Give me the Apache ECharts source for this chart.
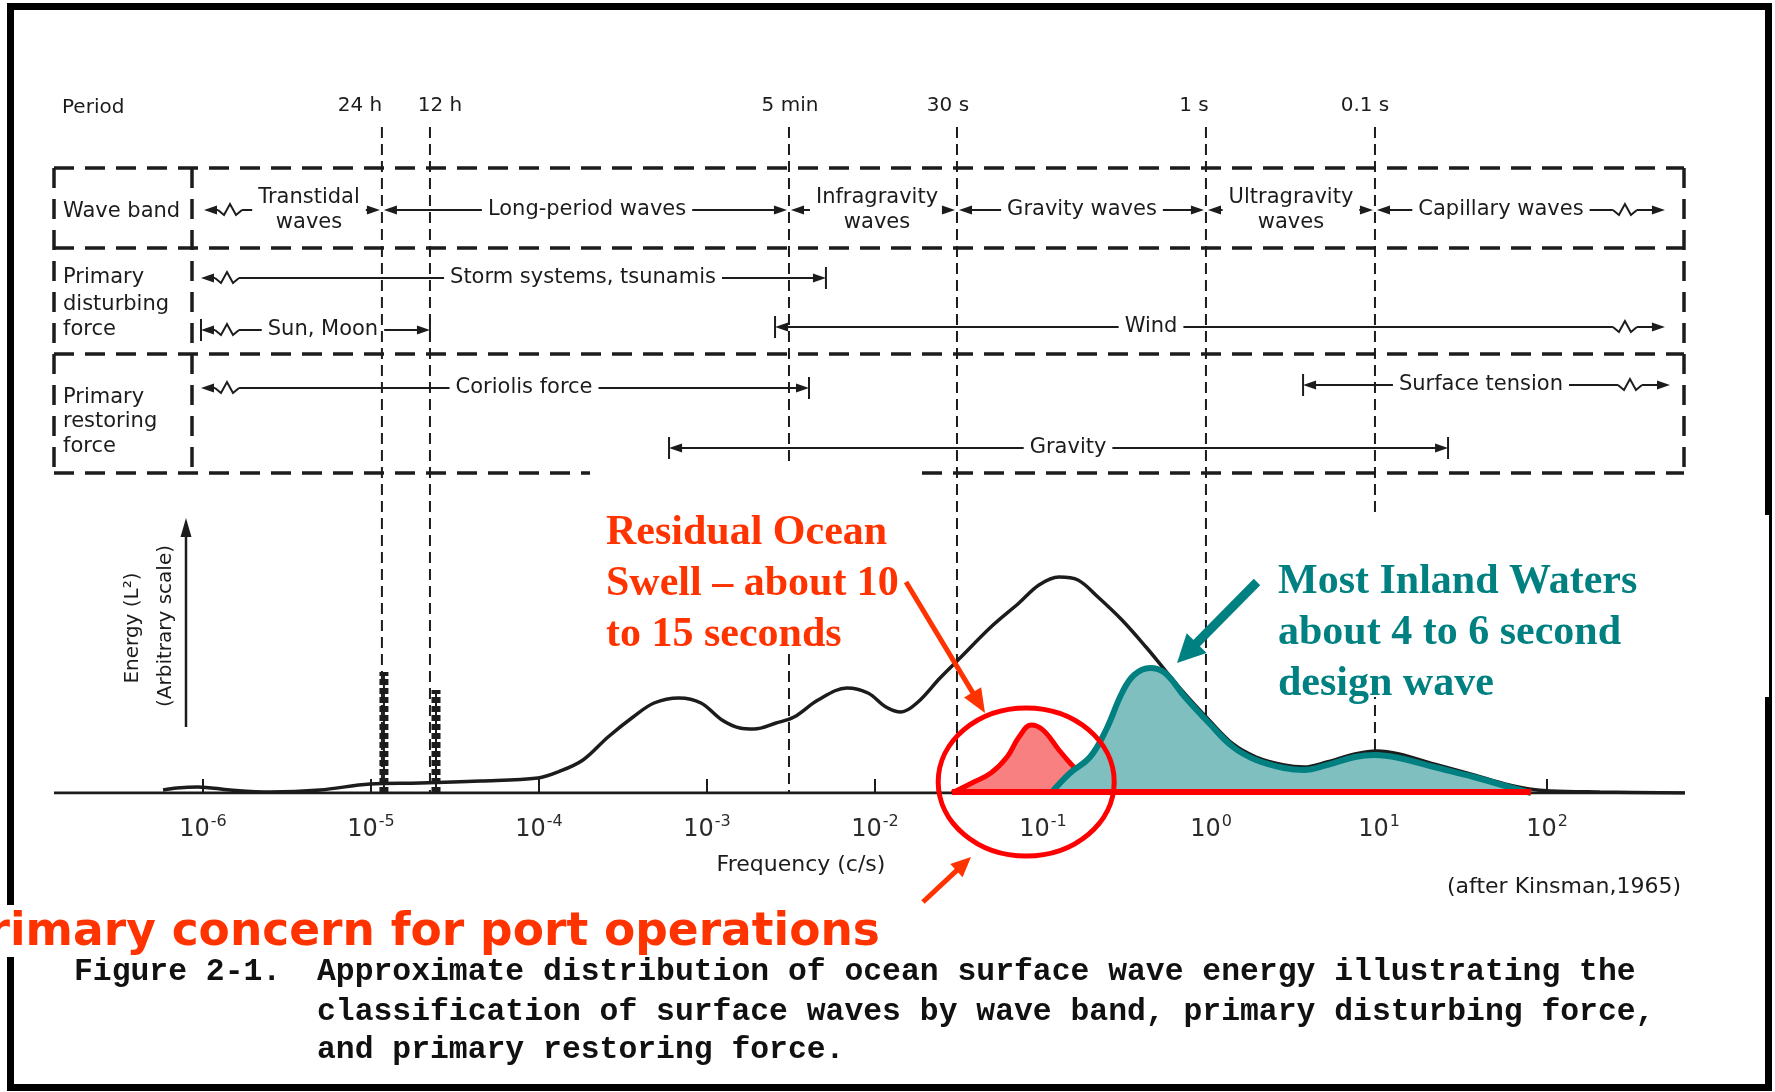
<!DOCTYPE html>
<html>
<head>
<meta charset="utf-8">
<script src="https://cdn.jsdelivr.net/npm/echarts@6/dist/echarts.min.js"></script>
<style>
  html, body { margin: 0; padding: 0; background: #ffffff; }
  #chart { width: 1775px; height: 1092px; }
</style>
</head>
<body>
<div id="chart"></div>
<script>
// ---- Frequency axis: x values are log10(frequency in c/s) ----
const decadeExponents = [-6, -5, -4, -3, -2, -1, 0, 1, 2];

// ---- Ocean surface wave energy spectrum (arbitrary units) ----
const spectrumLogF = [-6.238, -6.155, -6.030, -5.839, -5.601, -5.304, -5.006, -4.708, -4.351, -4.006,
  -3.887, -3.738, -3.589, -3.440, -3.315, -3.167, -3.036, -2.911, -2.804, -2.720,
  -2.589, -2.482, -2.339, -2.167, -2.042, -1.935, -1.845, -1.744, -1.613, -1.488,
  -1.310, -1.143, -1.024, -0.905, -0.792, -0.673, -0.530, -0.387, -0.274, -0.155,
  -0.012, 0.131, 0.268, 0.435, 0.554, 0.690, 0.857, 0.988, 1.119, 1.327,
  1.565, 1.774, 1.893, 2.018, 2.315, 2.821];
const spectrumEnergy = [0.15, 0.25, 0.30, 0.15, 0.05, 0.15, 0.45, 0.50, 0.60, 0.75,
  1.05, 1.65, 2.80, 3.80, 4.50, 4.75, 4.50, 3.65, 3.25, 3.20,
  3.50, 3.80, 4.65, 5.25, 5.00, 4.30, 4.05, 4.55, 5.75, 6.80,
  8.30, 9.50, 10.40, 10.80, 10.65, 9.80, 8.65, 7.30, 6.15, 4.95,
  3.65, 2.45, 1.80, 1.40, 1.30, 1.55, 1.95, 2.10, 1.95, 1.45,
  0.90, 0.40, 0.20, 0.10, 0.05, 0.00];

// Tidal lines at the diurnal and semidiurnal periods
const tidalSpikeLogF = [-4.923, -4.613];
const tidalSpikeEnergy = [6.05, 5.15];

// Residual ocean swell (10 to 15 s)
const swellLogF = [-1.542, -1.423, -1.310, -1.214, -1.143, -1.071, -1.000, -0.905, -0.839, -0.768, -0.690, -0.631];
const swellEnergy = [0.00, 0.50, 1.00, 1.80, 2.80, 3.40, 3.15, 2.15, 1.50, 0.90, 0.40, 0.00];

// Inland waters design wave band (4 to 6 s)
const inlandLogF = [-0.952, -0.839, -0.720, -0.625, -0.530, -0.458, -0.363, -0.274, -0.155, -0.012,
  0.131, 0.268, 0.435, 0.554, 0.690, 0.857, 0.976, 1.119, 1.327, 1.565, 1.774, 1.905];
const inlandEnergy = [0.00, 1.00, 1.80, 3.15, 5.00, 5.90, 6.25, 6.00, 4.80, 3.50,
  2.30, 1.65, 1.25, 1.15, 1.40, 1.80, 1.90, 1.75, 1.30, 0.80, 0.30, 0.00];

// Extent of the frequency baseline and of the port-concern underline
const baselineLogF = [-6.887, 2.821];
const portBandLogF = [-1.542, 1.905];

// ---- Period scale ----
const periodLabels = ['24 h', '12 h', '5 min', '30 s', '1 s', '0.1 s'];
const periodLogF = [-4.935, -4.649, -2.512, -1.512, -0.030, 0.976];

// ---- Classification table ----
const waveBandNames = ['Transtidal\nwaves', 'Long-period waves', 'Infragravity\nwaves', 'Gravity waves', 'Ultragravity\nwaves', 'Capillary waves'];
const waveBandEdges = [-5.994, -4.935, -2.512, -1.512, -0.030, 0.976, 2.702];

const disturbingNames = ['Storm systems, tsunamis', 'Sun, Moon', 'Wind'];
const disturbingRanges = [[-6.012, -2.292], [-6.012, -4.649], [-2.595, 2.702]];

const restoringNames = ['Coriolis force', 'Surface tension', 'Gravity'];
const restoringRanges = [[-6.012, -2.393], [0.548, 2.732], [-3.226, 1.411]];

const INK = '#1c1c1c';
const SANS = '"DejaVu Sans", "Liberation Sans", sans-serif';
const TABLE_FONT = '21px ' + SANS;
const RED_TEXT = '#ff3300';
const TEAL = '#008080';

const zip = (xs, ys) => xs.map((x, i) => [x, ys[i]]);

const chart = echarts.init(document.getElementById('chart'), null, { renderer: 'canvas' });

// Each tidal line is drawn as a hatched vertical bar
const spikeSeries = [];
tidalSpikeLogF.forEach((f, i) => {
  spikeSeries.push({
    type: 'line', z: 2, symbol: 'none', silent: true,
    data: [[f, 0], [f, tidalSpikeEnergy[i]]],
    lineStyle: { color: INK, width: 2 }
  });
  spikeSeries.push({
    type: 'line', z: 2, symbol: 'none', silent: true,
    data: [[f, 0], [f, tidalSpikeEnergy[i]]],
    lineStyle: { color: INK, width: 9, type: [6, 3] }
  });
});

chart.setOption({
  animation: false,
  backgroundColor: '#ffffff',
  grid: { left: 35, right: 60, top: 553, bottom: 299 },
  xAxis: {
    type: 'value', min: -7, max: 3,
    axisLine: { show: false },
    splitLine: { show: false },
    axisTick: { show: true, inside: true, length: 14, customValues: decadeExponents, lineStyle: { color: INK, width: 2 } },
    axisLabel: {
      customValues: decadeExponents,
      margin: 21,
      formatter: v => '{b|10}{s|' + v + '}',
      rich: {
        b: { fontFamily: SANS, fontSize: 24, color: '#2a2a2a', verticalAlign: 'bottom' },
        s: { fontFamily: SANS, fontSize: 16, color: '#2a2a2a', verticalAlign: 'bottom', padding: [0, 0, 12, 1] }
      }
    }
  },
  yAxis: { type: 'value', min: 0, max: 12, show: false },
  series: [
    {
      name: 'baseline', type: 'line', z: 1, symbol: 'none', silent: true,
      data: baselineLogF.map(f => [f, 0]),
      lineStyle: { color: INK, width: 3 }
    },
    ...spikeSeries,
    {
      name: 'Wave energy', type: 'line', z: 2, symbol: 'none', smooth: 0.35, silent: true,
      data: zip(spectrumLogF, spectrumEnergy),
      lineStyle: { color: INK, width: 3.5 }
    },
    {
      name: 'Residual ocean swell', type: 'line', z: 3, symbol: 'none', smooth: 0.4, silent: true,
      data: zip(swellLogF, swellEnergy),
      lineStyle: { color: '#ff0000', width: 5 },
      areaStyle: { color: '#f88080', opacity: 1 }
    },
    {
      name: 'Inland design wave', type: 'line', z: 4, symbol: 'none', smooth: 0.4, silent: true,
      data: zip(inlandLogF, inlandEnergy),
      lineStyle: { color: TEAL, width: 6 },
      areaStyle: { color: '#80bfbf', opacity: 1 }
    },
    {
      name: 'Port concern band', type: 'line', z: 5, symbol: 'none', silent: true,
      data: portBandLogF.map(f => [f, 0.05]),
      lineStyle: { color: '#ff0000', width: 6 }
    }
  ]
});

// ---- Diagram overlay drawn in the chart's own pixel space ----
const X = v => chart.convertToPixel({ xAxisIndex: 0 }, v);
const Y = v => chart.convertToPixel({ yAxisIndex: 0 }, v);
const g = [];
const measureCtx = document.createElement('canvas').getContext('2d');
function textWidth(s, font) { measureCtx.font = font; return measureCtx.measureText(s).width; }

function seg(x1, y1, x2, y2, w, dash, color, z) {
  const style = { stroke: color || INK, lineWidth: w || 2 };
  if (dash) style.lineDash = dash;
  g.push({ type: 'line', z: z == null ? 10 : z, silent: true, shape: { x1, y1, x2, y2 }, style });
}
function poly(points, color, z) {
  g.push({ type: 'polygon', z: z == null ? 10 : z, silent: true, shape: { points }, style: { fill: color || INK } });
}
function label(x, y, s, opt) {
  opt = opt || {};
  g.push({
    type: 'text', z: opt.z == null ? 20 : opt.z, silent: true,
    x, y, rotation: opt.rotation || 0,
    style: {
      text: s, font: opt.font || TABLE_FONT, fill: opt.color || INK,
      align: opt.align || 'center', verticalAlign: 'middle',
      textAlign: opt.align || 'center', textVerticalAlign: 'middle'
    }
  });
}
function head(x, y, dir) { // filled arrowhead, tip at x, dir -1 left / +1 right
  poly([[x, y], [x - dir * 13, y - 4.5], [x - dir * 13, y + 4.5]]);
}
function zig(x, y, dir) {
  const s = 6 * dir;
  g.push({
    type: 'polyline', z: 10, silent: true,
    shape: { points: [[x, y], [x + s, y + 5], [x + 2 * s, y - 6], [x + 3 * s, y + 5], [x + 4 * s, y]] },
    style: { stroke: INK, lineWidth: 2, fill: null }
  });
}
// One range of the table: arrows out to its limits, label in the middle
function span(y, a, b, startKind, endKind, text, at) {
  const xa = X(a), xb = X(b), c = X(at);
  const lines = text.split('\n');
  const w = Math.max(...lines.map(t => textWidth(t, TABLE_FONT)));
  lines.forEach((t, i) => label(c, y + (i - (lines.length - 1) / 2) * 25, t));
  let s0 = xa + 10, s1 = xb - 10;
  if (startKind.indexOf('bar') >= 0) seg(xa, y - 11, xa, y + 11, 2);
  head(xa, y, -1);
  if (startKind.indexOf('wiggle') >= 0) {
    seg(xa + 10, y, xa + 14, y); zig(xa + 14, y, 1); s0 = xa + 38;
  }
  if (endKind.indexOf('bar') >= 0) seg(xb, y - 11, xb, y + 11, 2);
  head(xb, y, 1);
  if (endKind.indexOf('wiggle') >= 0) {
    seg(xb - 28, y, xb - 10, y); zig(xb - 28, y, -1); s1 = xb - 52;
  }
  const gl = c - w / 2 - 6, gr = c + w / 2 + 6;
  if (gl > s0) seg(s0, y, gl, y);
  if (s1 > gr) seg(gr, y, s1, y);
}

const yBase = Y(0);

// Period guide lines
periodLogF.forEach(f => seg(X(f), 127, X(f), yBase, 2, [11, 6], INK, 1));
const periodLabelShift = [-22, 10, 1, -9, -12, -10];
periodLabels.forEach((p, i) => label(X(periodLogF[i]) + periodLabelShift[i], 106, p, { font: '20px ' + SANS }));
label(62, 108, 'Period', { align: 'left', font: '20px ' + SANS });

// Table frame
const T = { left: 54, right: 1684, col: 192, rows: [168, 248, 354, 473] };
const tableDash = [20, 11];
T.rows.forEach(y => seg(T.left, y, T.right, y, 3.5, tableDash, INK, 1));
[T.left, T.col, T.right].forEach(x => seg(x, T.rows[0], x, T.rows[3], 3.5, tableDash, INK, 1));

// Row headings
label(63, 212, 'Wave band', { align: 'left' });
label(63, 278, 'Primary', { align: 'left' });
label(63, 305, 'disturbing', { align: 'left' });
label(63, 330, 'force', { align: 'left' });
label(63, 398, 'Primary', { align: 'left' });
label(63, 422, 'restoring', { align: 'left' });
label(63, 447, 'force', { align: 'left' });

// Wave bands
const bandLabelAt = [-5.369, -3.714, -1.988, -0.768, 0.476, 1.726];
waveBandNames.forEach((n, i) => {
  const first = i === 0, last = i === waveBandNames.length - 1;
  span(210, waveBandEdges[i] + (first ? 0 : 0.012), waveBandEdges[i + 1] - (last ? 0 : 0.012),
    first ? 'wiggle' : 'arrow', last ? 'wiggle' : 'arrow', n, bandLabelAt[i]);
});

// Disturbing forces
span(278, disturbingRanges[0][0], disturbingRanges[0][1], 'wiggle', 'bar', disturbingNames[0], -3.738);
span(330, disturbingRanges[1][0], disturbingRanges[1][1], 'bar wiggle', 'bar', disturbingNames[1], -5.286);
span(327, disturbingRanges[2][0], disturbingRanges[2][1], 'bar', 'wiggle', disturbingNames[2], -0.357);

// Restoring forces
span(388, restoringRanges[0][0], restoringRanges[0][1], 'wiggle', 'bar', restoringNames[0], -4.089);
span(385, restoringRanges[1][0], restoringRanges[1][1], 'bar', 'wiggle', restoringNames[1], 1.607);
span(448, restoringRanges[2][0], restoringRanges[2][1], 'bar', 'bar', restoringNames[2], -0.851);

// Energy axis
seg(186, 727, 186, 532, 2.5);
poly([[186, 518], [180.5, 537], [191.5, 537]]);
label(133, 628, 'Energy (L²)', { rotation: Math.PI / 2, font: '20px ' + SANS });
label(166, 626, '(Arbitrary scale)', { rotation: Math.PI / 2, font: '20px ' + SANS });

label(801, 865, 'Frequency (c/s)', { font: '22px ' + SANS });
label(1681, 887, '(after Kinsman,1965)', { align: 'right', font: '22px ' + SANS });

// Outer frame
g.push({ type: 'rect', z: 14, silent: true, shape: { x: 10.5, y: 6.5, width: 1758, height: 1081 }, style: { fill: null, stroke: '#000', lineWidth: 7 } });

// White panels behind the annotations
[[590, 462, 332, 190], [1262, 515, 507, 182], [0, 905, 895, 52]].forEach(r =>
  g.push({ type: 'rect', z: 15, silent: true, shape: { x: r[0], y: r[1], width: r[2], height: r[3] }, style: { fill: '#ffffff' } }));

// Annotations
const SERIF = 'bold 42px "Liberation Serif", "Times New Roman", serif';
['Residual Ocean', 'Swell – about 10', 'to 15 seconds'].forEach((t, i) =>
  label(606, 533 + i * 51, t, { align: 'left', font: SERIF, color: RED_TEXT, z: 25 }));
['Most Inland Waters', 'about 4 to 6 second', 'design wave'].forEach((t, i) =>
  label(1278, 582 + i * 51, t, { align: 'left', font: SERIF, color: TEAL, z: 25 }));

const concernFont = 'bold 45.5px ' + SANS;
label(10 - textWidth('Pr', concernFont), 933, 'Primary concern for port operations', { align: 'left', font: concernFont, color: RED_TEXT, z: 25 });

function fatArrow(x1, y1, x2, y2, color, w, hl, hw) {
  const dx = x2 - x1, dy = y2 - y1, len = Math.hypot(dx, dy), ux = dx / len, uy = dy / len;
  const bx = x2 - ux * hl, by = y2 - uy * hl;
  seg(x1, y1, bx + ux * 2, by + uy * 2, w, null, color, 30);
  poly([[x2, y2], [bx - uy * hw / 2, by + ux * hw / 2], [bx + uy * hw / 2, by - ux * hw / 2]], color, 30);
}
fatArrow(906, 582, 985, 713, RED_TEXT, 5, 24, 20);
fatArrow(1257, 582, 1177, 663, TEAL, 9, 28, 28);
fatArrow(923, 902, 971, 857, RED_TEXT, 5, 20, 18);

g.push({ type: 'ellipse', z: 30, silent: true, shape: { cx: X(-1.10), cy: Y(0.55), rx: 88, ry: 74 }, style: { fill: null, stroke: '#ff0000', lineWidth: 5 } });

// Caption
const MONO = 'bold 31.4px "Liberation Mono", "DejaVu Sans Mono", monospace';
label(74, 972, 'Figure 2-1.', { align: 'left', font: MONO, color: '#111' });
label(317, 972, 'Approximate distribution of ocean surface wave energy illustrating the', { align: 'left', font: MONO, color: '#111' });
label(317, 1012, 'classification of surface waves by wave band, primary disturbing force,', { align: 'left', font: MONO, color: '#111' });
label(317, 1050, 'and primary restoring force.', { align: 'left', font: MONO, color: '#111' });

chart.setOption({ graphic: { elements: g } });
</script>
</body>
</html>
